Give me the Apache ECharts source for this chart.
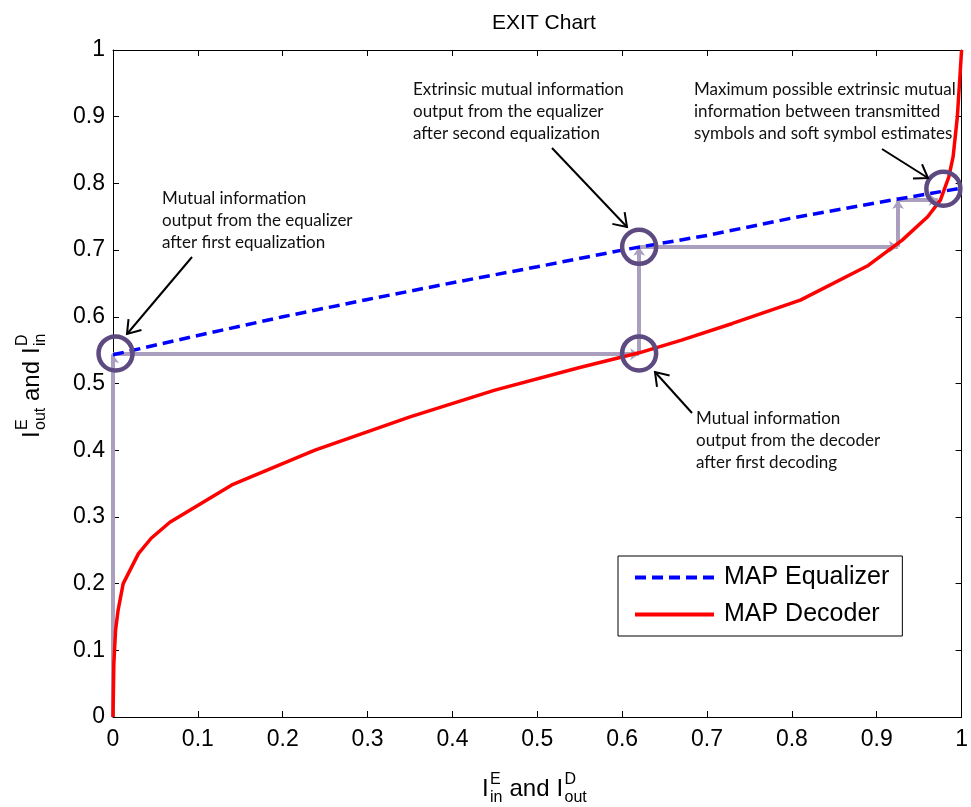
<!DOCTYPE html>
<html>
<head>
<meta charset="utf-8">
<title>EXIT Chart</title>
<script src="https://cdn.jsdelivr.net/npm/echarts@6.0.0/dist/echarts.min.js"></script>
<style>
    html, body { margin: 0; padding: 0; background: #fff; }
    #chart { width: 971px; height: 807px; }
</style>
</head>
<body>
<div id="chart"></div>
<script>
(function () {
    'use strict';

    /* -- Data -- */

    var eqX = [0, 0.1, 0.2, 0.3, 0.4, 0.5, 0.6, 0.7, 0.8, 0.9, 1.0];
    var eqY = [0.543, 0.572, 0.600, 0.626, 0.651, 0.675, 0.700, 0.722, 0.748, 0.771, 0.793];

    var decX = [0, 0.001, 0.003, 0.006, 0.012, 0.03, 0.045, 0.067, 0.14, 0.238, 0.35, 0.45,
        0.55, 0.62, 0.67, 0.73, 0.81, 0.89, 0.93, 0.96, 0.975, 0.985, 0.99, 0.995, 1.0];
    var decY = [0, 0.08, 0.13, 0.16, 0.2, 0.245, 0.268, 0.292, 0.348, 0.40, 0.45, 0.49,
        0.524, 0.546, 0.565, 0.59, 0.625, 0.677, 0.715, 0.75, 0.775, 0.81, 0.84, 0.9, 1.0];

    // decoding trajectory corners
    var trajX = [0, 0, 0.62, 0.62, 0.925, 0.925, 0.972];
    var trajY = [0, 0.544, 0.544, 0.705, 0.705, 0.775, 0.775];

    var circleX = [0.003, 0.62, 0.62, 0.9785];
    var circleY = [0.545, 0.705, 0.545, 0.792];

    var legendNames = ['MAP Equalizer', 'MAP Decoder'];

    var notes = [
        'Mutual information\noutput from the equalizer\nafter first equalization',
        'Extrinsic mutual information\noutput from the equalizer\nafter second equalization',
        'Maximum possible extrinsic mutual\ninformation between transmitted\nsymbols and soft symbol estimates',
        'Mutual information\noutput from the decoder\nafter first decoding'
    ];

    /* -- Style -- */

    var FONT = 'Liberation Sans, Arial, sans-serif';
    var NOTE_FONT = '17px Lato, "Open Sans", sans-serif';
    var TRAJ = '#aa9fbe';
    var RING = '#5d4a80';

    function zip(xs, ys) {
        return xs.map(function (x, i) { return [x, ys[i]]; });
    }

    function segments(xs, ys) {
        var out = [];
        for (var i = 1; i < xs.length; i++) {
            out.push({ coords: [[xs[i - 1], ys[i - 1]], [xs[i], ys[i]]] });
        }
        return out;
    }

    /** Black annotation arrow: shaft plus open chevron head. */
    function arrow(x1, y1, x2, y2) {
        var a = Math.atan2(y1 - y2, x1 - x2), len = 15, spread = 0.6;
        var p1 = [x2 + len * Math.cos(a + spread), y2 + len * Math.sin(a + spread)];
        var p2 = [x2 + len * Math.cos(a - spread), y2 + len * Math.sin(a - spread)];
        return [
            { type: 'line', z: 100, shape: { x1: x1, y1: y1, x2: x2, y2: y2 },
              style: { stroke: '#000', lineWidth: 2 } },
            { type: 'polyline', z: 100, shape: { points: [p1, [x2, y2], p2] },
              style: { stroke: '#000', lineWidth: 2, fill: null } }
        ];
    }

    function note(text, x, y) {
        return { type: 'text', z: 100, x: x, y: y,
                 style: { text: text, font: NOTE_FONT, fill: '#111', lineHeight: 22,
                          verticalAlign: 'top', align: 'left' } };
    }

    /** Axis label with stacked superscript/subscript, laid out along the baseline. */
    function ioLabel(sub1, sub2, pos, rotation) {
        var w1 = sub1 === 'out' ? 22 : 12.5;
        var andX = 8 + w1 + 7;
        var i2 = andX + 47;
        var pieces = [
            ['I', 0, -8, 24], ['E', 8, -17, 16], [sub1, 8, 1, 16],
            ['and', andX, -8, 24],
            ['I', i2, -8, 24], ['D', i2 + 8, -17, 16], [sub2, i2 + 8, 1, 16]
        ];
        return {
            type: 'group', x: pos[0], y: pos[1], rotation: rotation || 0, z: 100,
            children: pieces.map(function (p) {
                return { type: 'text', x: p[1], y: p[2],
                         style: { text: p[0], font: p[3] + 'px ' + FONT, fill: '#000',
                                  verticalAlign: 'middle', align: 'left' } };
            })
        };
    }

    var graphics = [
        note(notes[0], 162, 188),
        note(notes[1], 413, 79),
        note(notes[2], 694, 79),
        note(notes[3], 696, 408),
        ioLabel('in', 'out', [482, 797], 0),
        ioLabel('out', 'in', [40, 438], Math.PI / 2)
    ]
        .concat(arrow(192, 257, 127, 334))
        .concat(arrow(552, 148, 627, 227))
        .concat(arrow(882, 149, 928, 178))
        .concat(arrow(692, 413, 655, 372));

    var tick = { show: true, inside: true, length: 6, lineStyle: { color: '#000', width: 1 } };
    var axisLine = { show: true, onZero: false, lineStyle: { color: '#000', width: 1 } };
    var labelStyle = { color: '#000', fontSize: 23, fontFamily: FONT };

    function xAxis(pos, labels) {
        return { type: 'value', position: pos, min: 0, max: 1, interval: 0.1,
                 axisLine: axisLine, axisTick: tick, splitLine: { show: false },
                 axisLabel: labels ? Object.assign({ margin: 11 }, labelStyle) : { show: false } };
    }
    function yAxis(pos, labels) {
        return { type: 'value', position: pos, min: 0, max: 1, interval: 0.1,
                 axisLine: axisLine, axisTick: tick, splitLine: { show: false },
                 axisLabel: labels ? Object.assign({ margin: 8 }, labelStyle) : { show: false } };
    }

    var chart = echarts.init(document.getElementById('chart'), null, { renderer: 'canvas' });

    chart.setOption({
        animation: false,
        backgroundColor: '#fff',
        title: {
            text: 'EXIT Chart', left: 539, top: 8, textAlign: 'center',
            textStyle: { fontSize: 21, fontWeight: 'normal', color: '#000', fontFamily: FONT }
        },
        grid: { left: 113, right: 6, top: 50, bottom: 90 },
        xAxis: [xAxis('bottom', true), xAxis('top', false)],
        yAxis: [yAxis('left', true), yAxis('right', false)],
        legend: {
            data: legendNames, orient: 'vertical', left: 618, top: 556,
            backgroundColor: '#fff', borderColor: '#000', borderWidth: 1,
            padding: [9, 13, 9, 15], itemGap: 12, itemWidth: 79, itemHeight: 14,
            itemStyle: { color: 'rgba(0,0,0,0)', borderWidth: 0, opacity: 0 },
            lineStyle: { width: 4 },
            textStyle: { fontSize: 25, fontFamily: FONT, color: '#000', padding: [0, 0, 0, 5] }
        },
        graphic: graphics,
        series: [
            {
                name: 'trajectory', type: 'lines', coordinateSystem: 'cartesian2d', z: 2,
                symbol: ['none', 'arrow'], symbolSize: 9,
                lineStyle: { color: TRAJ, width: 4, opacity: 1 },
                data: segments(trajX, trajY)
            },
            {
                name: legendNames[0], type: 'line', symbol: 'none', z: 3,
                lineStyle: { color: '#0000ff', width: 3.5, type: [11, 6] },
                itemStyle: { color: '#0000ff' },
                data: zip(eqX, eqY)
            },
            {
                name: legendNames[1], type: 'line', symbol: 'none', z: 4,
                lineStyle: { color: '#ff0000', width: 3.5 },
                itemStyle: { color: '#ff0000' },
                data: zip(decX, decY)
            },
            {
                name: 'points', type: 'scatter', z: 5, clip: false, symbolSize: 34,
                itemStyle: { color: 'rgba(0,0,0,0)', borderColor: RING, borderWidth: 4.5, opacity: 1 },
                data: zip(circleX, circleY)
            }
        ]
    });
})();
</script>
</body>
</html>
